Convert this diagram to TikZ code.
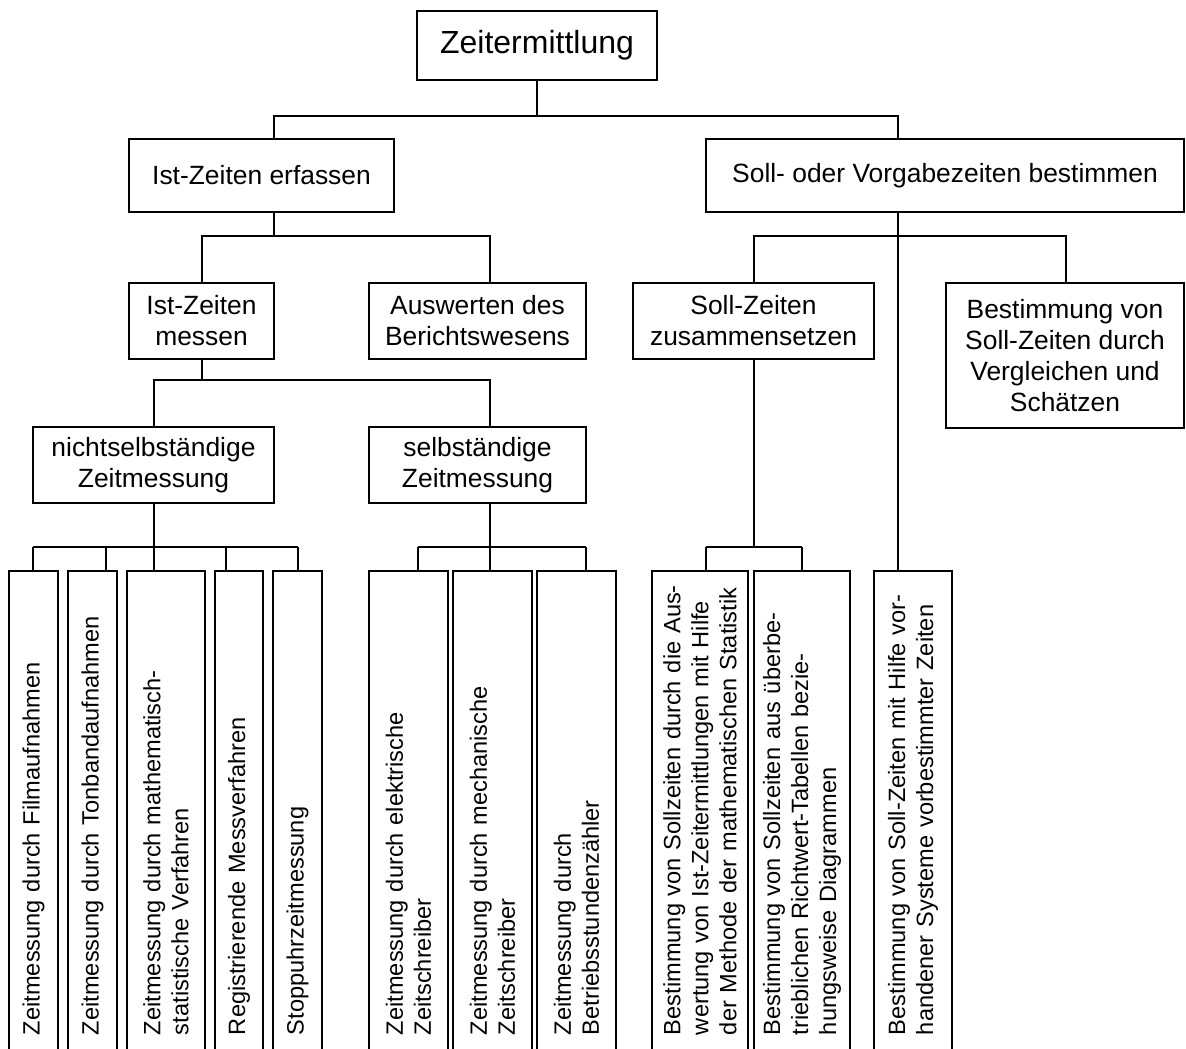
\documentclass[tikz,border=0pt]{standalone}
\usepackage{fontspec}
\setmainfont{Liberation Sans}
\tikzset{
  box/.style={draw, line width=0.9pt, align=center, inner sep=2pt, outer sep=0pt,
    font=\fontsize{13.2}{15.5}\selectfont},
  vbox/.style={draw, line width=0.9pt, rotate=90, anchor=north west, align=left,
    outer sep=0pt, inner ysep=0pt, inner xsep=8.5pt, text width=223.5pt,
    minimum width=240.5pt, font=\fontsize{11.8}{14}\selectfont},
  conn/.style={line width=0.9pt}
}
\begin{document}
\begin{tikzpicture}[x=0.5pt,y=-0.5pt]
\clip (0,0) rectangle (1186,1048);

\node[box, minimum width=120pt, minimum height=34.5pt, font=\fontsize{16}{19}\selectfont] (zeit) at (537,45.5) {Zeitermittlung};
\node[box, minimum width=132.5pt, minimum height=36.5pt] (ist) at (261.5,175.5) {Ist-Zeiten erfassen};
\node[box, minimum width=239pt, minimum height=36.5pt] (soll) at (945,175.5) {Soll- oder Vorgabezeiten bestimmen};
\node[box, minimum width=72.5pt, minimum height=38pt] (messen) at (201.5,321) {Ist-Zeiten\\messen};
\node[box, minimum width=108.5pt, minimum height=38pt] (ausw) at (477.5,321) {Auswerten des\\Berichtswesens};
\node[box, minimum width=120.5pt, minimum height=38pt] (sollz) at (753.5,321) {Soll-Zeiten\\zusammensetzen};
\node[box, minimum width=119pt, minimum height=72.5pt] (vergl) at (1065,355.5) {Bestimmung von\\Soll-Zeiten durch\\Vergleichen und\\Schätzen};
\node[box, minimum width=120.5pt, minimum height=38pt] (nicht) at (153.5,465) {nichtselbständige\\Zeitmessung};
\node[box, minimum width=108.5pt, minimum height=38pt] (selb) at (477.5,465) {selbständige\\Zeitmessung};

\node[vbox, minimum height=24.5pt] (t1) at (9,1052) {Zeitmessung durch Filmaufnahmen};
\node[vbox, minimum height=24.5pt] (t2) at (68,1052) {Zeitmessung durch Tonbandaufnahmen};
\node[vbox, minimum height=39pt] (t3) at (127,1052) {Zeitmessung durch mathematisch-\\statistische Verfahren};
\node[vbox, minimum height=24pt] (t4) at (215,1052) {Registrierende Messverfahren};
\node[vbox, minimum height=24.5pt] (t5) at (273,1052) {Stoppuhrzeitmessung};
\node[vbox, minimum height=39.5pt] (t6) at (369,1052) {Zeitmessung durch elektrische\\Zeitschreiber};
\node[vbox, minimum height=39.5pt] (t7) at (453,1052) {Zeitmessung durch mechanische\\Zeitschreiber};
\node[vbox, minimum height=39.5pt] (t8) at (537,1052) {Zeitmessung durch\\Betriebsstundenzähler};
\node[vbox, minimum height=48pt] (t9) at (652,1052) {\mbox{Bestimmung von Sollzeiten durch die Aus-}\\\mbox{wertung von Ist-Zeitermittlungen mit Hilfe}\\\mbox{der Methode der mathematischen Statistik}};
\node[vbox, minimum height=48pt] (t10) at (754,1052) {\mbox{Bestimmung von Sollzeiten aus überbe-}\\\mbox{trieblichen Richtwert-Tabellen bezie-}\\\mbox{hungsweise Diagrammen}};
\node[vbox, minimum height=39pt] (t11) at (874,1052) {\mbox{Bestimmung von Soll-Zeiten mit Hilfe vor-}\\\mbox{handener Systeme vorbestimmter Zeiten}};

\coordinate (j0) at (537,116);
\coordinate (b0l) at (274,116);
\coordinate (b0r) at (898,116);
\coordinate (b1l) at (202,236);
\coordinate (b1r) at (490,236);
\coordinate (b2l) at (754,236);
\coordinate (b2r) at (1066,236);
\coordinate (b3l) at (154,380);
\coordinate (b3r) at (490,380);

\draw[conn] (zeit) -- (j0);
\draw[conn] (b0l |- ist.north) -- (b0l) -- (b0r) -- (b0r |- soll.north);
\draw[conn] (b0l |- ist.south) -- (b0l |- b1l);
\draw[conn] (b1l |- messen.north) -- (b1l) -- (b1r) -- (b1r |- ausw.north);
\draw[conn] (b0r |- soll.south) -- (b0r |- t11.east);
\draw[conn] (b2l |- sollz.north) -- (b2l) -- (b2r) -- (b2r |- vergl.north);
\draw[conn] (b1l |- messen.south) -- (b1l |- b3l);
\draw[conn] (b3l |- nicht.north) -- (b3l) -- (b3r) -- (b3r |- selb.north);

\draw[conn] (b3l |- nicht.south) -- (154,547);
\draw[conn] (33,547) -- (298,547);
\foreach \x/\t in {33/t1,106/t2,154/t3,226/t4,298/t5}
  \draw[conn] (\x,547) -- (\x,547 |- \t.east);

\draw[conn] (b3r |- selb.south) -- (490,547);
\draw[conn] (418,547) -- (586,547);
\foreach \x/\t in {418/t6,490/t7,586/t8}
  \draw[conn] (\x,547) -- (\x,547 |- \t.east);

\draw[conn] (b2l |- sollz.south) -- (754,547);
\draw[conn] (706,547) -- (802,547);
\foreach \x/\t in {706/t9,802/t10}
  \draw[conn] (\x,547) -- (\x,547 |- \t.east);
\end{tikzpicture}
\end{document}
